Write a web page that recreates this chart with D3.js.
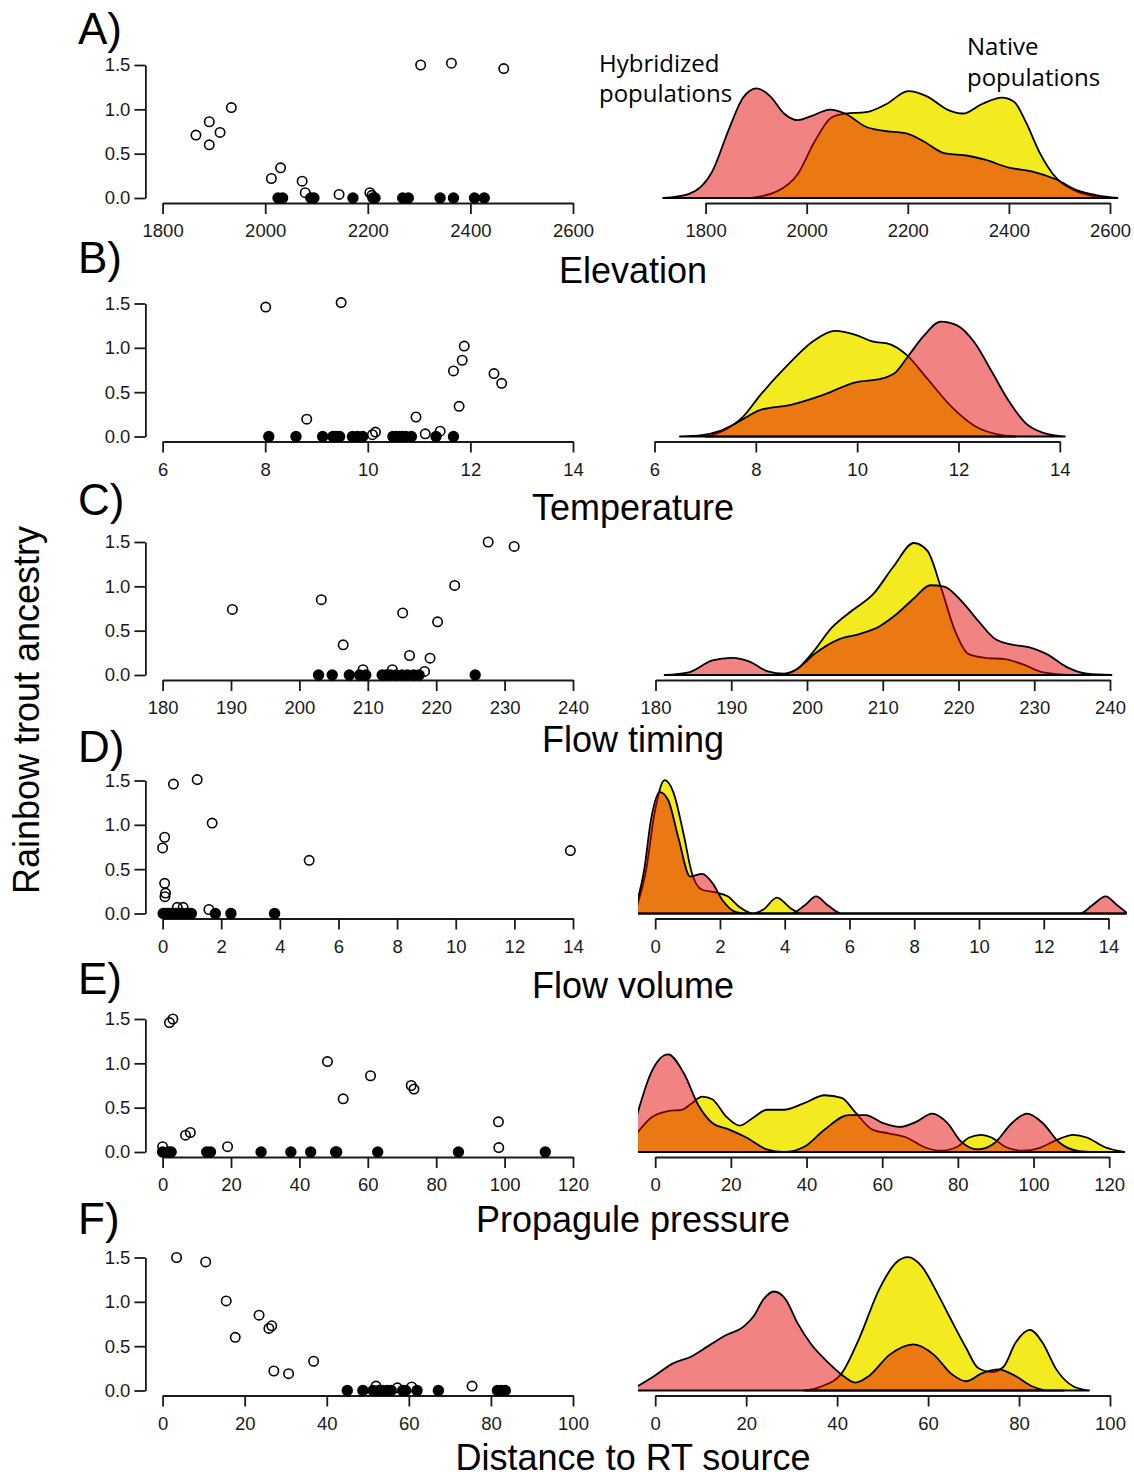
<!DOCTYPE html>
<html>
<head>
<meta charset="utf-8">
<script src="https://cdn.jsdelivr.net/npm/d3@7"></script>
<style>
  body { margin: 0; background: #fff; }
</style>
</head>
<body>
<div id="chart"></div>
<script>
// panel labels and variable names
var letters = ["A)", "B)", "C)", "D)", "E)", "F)"];
var varNames = ["Elevation", "Temperature", "Flow timing", "Flow volume", "Propagule pressure", "Distance to RT source"];
var xTicks = [
  [1800, 2000, 2200, 2400, 2600],
  [6, 8, 10, 12, 14],
  [180, 190, 200, 210, 220, 230, 240],
  [0, 2, 4, 6, 8, 10, 12, 14],
  [0, 20, 40, 60, 80, 100, 120],
  [0, 20, 40, 60, 80, 100]
];
var yTicks = [0, 0.5, 1.0, 1.5];

// scatter: hybridized (open) and native (filled, ancestry 0)
var elevHybX = [1865, 1891, 1891, 1912, 1934, 2012, 2030, 2072, 2078, 2144, 2204, 2208, 2303, 2363, 2465];
var elevHybY = [0.71, 0.86, 0.60, 0.74, 1.02, 0.22, 0.34, 0.19, 0.06, 0.04, 0.06, 0.03, 1.50, 1.52, 1.46];
var elevNatX = [2025, 2034, 2089, 2095, 2171, 2210, 2214, 2268, 2279, 2341, 2367, 2408, 2427];

var tempHybX = [8.01, 9.48, 8.81, 10.09, 10.15, 10.94, 11.12, 11.41, 11.67, 11.78, 11.84, 11.88, 12.46, 12.61];
var tempHybY = [1.46, 1.51, 0.195, 0.02, 0.05, 0.22, 0.03, 0.06, 0.74, 0.34, 0.86, 1.02, 0.71, 0.60];
var tempNatX = [8.07, 8.60, 9.12, 9.32, 9.38, 9.45, 9.70, 9.80, 9.90, 10.49, 10.55, 10.62, 10.68, 10.74, 10.85, 11.33, 11.67];

var timeHybX = [190.2, 203.2, 206.4, 209.3, 213.6, 215.1, 216.1, 218.3, 219.1, 220.2, 222.7, 227.6, 231.4];
var timeHybY = [0.74, 0.85, 0.34, 0.06, 0.06, 0.70, 0.22, 0.04, 0.19, 0.60, 1.01, 1.50, 1.45];
var timeNatX = [202.8, 204.8, 207.3, 208.8, 209.7, 212.1, 212.7, 213.3, 214.1, 215.0, 215.8, 216.7, 217.5, 225.7];

var volHybX = [0.37, 1.18, 1.69, 0.07, 0.0, 0.07, 0.10, 0.08, 5.0, 13.91, 0.5, 0.7, 1.58];
var volHybY = [1.46, 1.51, 1.02, 0.86, 0.74, 0.34, 0.23, 0.19, 0.60, 0.71, 0.07, 0.07, 0.045];
var volNatX = [0.02, 0.08, 0.15, 0.22, 0.30, 0.38, 0.45, 0.55, 0.62, 0.70, 0.80, 0.90, 0.98, 1.80, 2.33, 3.82];

var propHybX = [2.0, 3.0, 6.7, 8.1, 0.0, 19.0, 48.2, 52.8, 60.8, 72.7, 73.5, 98.2, 98.3];
var propHybY = [1.46, 1.50, 0.19, 0.22, 0.06, 0.06, 1.02, 0.60, 0.86, 0.75, 0.71, 0.34, 0.05];
var propNatX = [0, 1.7, 2.5, 12.9, 14.0, 28.8, 37.5, 43.3, 50.6, 50.9, 62.9, 86.5, 111.9];

var distHybX = [3.4, 10.5, 15.5, 17.7, 23.5, 25.9, 26.6, 27.1, 30.7, 36.8, 52.0, 57.2, 60.7, 75.4];
var distHybY = [1.50, 1.45, 1.01, 0.60, 0.85, 0.70, 0.73, 0.22, 0.19, 0.33, 0.05, 0.03, 0.04, 0.05];
var distNatX = [45.0, 48.8, 51.3, 52.7, 53.6, 54.8, 55.7, 58.5, 59.2, 62.0, 67.2, 81.6, 82.5, 83.5];

// density curves (relative height, 100 = full ancestry axis height)
var elevRedX = [1716, 1766, 1813, 1847, 1874, 1901, 1928, 1955, 1982, 2009, 2046, 2076, 2117, 2150, 2197, 2231, 2272, 2319, 2353, 2400, 2447, 2494, 2534, 2575, 2615];
var elevRedD = [0, 3, 20, 53, 76, 83, 77, 64, 59, 62, 67, 64, 54, 51, 49, 43, 34, 32, 29, 23, 20, 14, 6, 2, 0];
var elevYelX = [1888, 1941, 1982, 2016, 2049, 2076, 2117, 2157, 2201, 2238, 2278, 2309, 2346, 2386, 2410, 2433, 2460, 2494, 2534, 2575, 2604];
var elevYelD = [0, 5, 18, 43, 61, 64, 65, 71, 81, 77, 67, 64, 71, 76, 73, 58, 35, 15, 5, 1, 0];

var tempRedX = [6.50, 6.94, 7.28, 7.61, 8.08, 8.69, 9.29, 9.97, 10.50, 10.77, 11.01, 11.31, 11.65, 11.98, 12.32, 12.66, 12.99, 13.33, 13.66, 14.10];
var tempRedD = [0, 1, 4, 10, 20, 24, 31, 41, 44, 49, 61, 76, 87, 84, 71, 49, 27, 10, 3, 0];
var tempYelX = [7.01, 7.34, 7.75, 8.08, 8.55, 9.16, 9.56, 9.97, 10.30, 10.64, 10.97, 11.38, 11.85, 12.32, 12.86, 13.13];
var tempYelD = [0, 4, 15, 31, 51, 73, 80, 77, 72, 70, 62, 44, 23, 8, 1, 0];

var timeRedX = [181.2, 184.4, 187.5, 190.0, 192.5, 194.7, 197.0, 198.8, 201.0, 204.2, 206.9, 209.6, 211.8, 214.1, 216.3, 218.1, 220.4, 222.6, 224.9, 227.1, 229.4, 231.6, 234.3, 237.0, 240.2];
var timeRedD = [0, 2, 11, 13, 10, 3, 1, 5, 16, 27, 31, 37, 46, 58, 68, 67, 56, 41, 27, 23, 21, 16, 6, 1, 0];
var timeYelX = [196.1, 198.3, 200.6, 203.3, 206.0, 208.7, 211.4, 214.1, 215.9, 217.7, 219.5, 221.3, 223.5, 226.2, 228.5, 231.2, 234.8];
var timeYelD = [0, 3, 16, 36, 49, 61, 82, 100, 94, 66, 34, 16, 13, 12, 8, 2, 0];

var volRedX = [-0.57, -0.34, -0.13, 0.14, 0.40, 0.71, 1.08, 1.45, 1.77, 2.08, 2.50, 2.82, 4.18, 4.61, 4.97, 5.34, 5.76, 13.12, 13.49, 13.91, 14.28, 14.54];
var volRedD = [8, 33, 71, 92, 86, 58, 28, 30, 23, 10, 1, 0, 0, 6, 13, 6, 0, 0, 6, 13, 6, 1];
var volYelX = [-0.57, -0.28, -0.02, 0.29, 0.56, 0.87, 1.14, 1.45, 1.87, 2.24, 2.60, 3.03, 3.34, 3.76, 4.18, 4.50, 14.54];
var volYelD = [5, 33, 76, 101, 92, 61, 30, 18, 16, 13, 5, 0, 3, 12, 4, 0, 0];

var propRedX = [-4.9, -1.1, 3.4, 7.5, 11.5, 15.1, 19.6, 24.1, 29.5, 34.0, 39.4, 44.8, 51.1, 55.6, 60.1, 64.6, 69.1, 73.2, 77.2, 80.8, 85.3, 89.8, 94.3, 98.3, 102.4, 106.9, 111.4, 115.0];
var propRedD = [27, 60, 74, 60, 35, 22, 17, 11, 2, 0, 4, 17, 28, 28, 22, 19, 23, 29, 22, 8, 2, 7, 22, 29, 22, 7, 1, 0];
var propYelX = [-4.9, -1.1, 3.4, 7.0, 9.7, 12.4, 15.1, 18.7, 22.3, 25.9, 29.5, 34.0, 39.4, 44.8, 49.3, 52.9, 57.4, 61.9, 66.4, 70.9, 75.4, 79.9, 83.0, 86.2, 88.9, 92.5, 97.0, 101.5, 106.0, 110.5, 114.1, 118.6, 124.0];
var propYelD = [14, 26, 31, 32, 37, 42, 40, 27, 20, 26, 32, 32, 37, 43, 41, 30, 17, 14, 11, 4, 1, 4, 11, 13, 11, 4, 1, 3, 9, 13, 11, 4, 0];

var distRedX = [-4.0, -0.2, 3.6, 8.1, 11.8, 15.6, 19.3, 21.6, 23.8, 26.1, 28.7, 31.3, 34.3, 38.1, 41.0, 44.0, 47.0, 51.5, 56.8, 61.3, 65.0, 68.4, 71.8, 75.5, 79.2, 83.0, 86.7, 89.7];
var distRedD = [3, 11, 20, 26, 34, 42, 48, 56, 69, 75, 69, 51, 35, 21, 12, 6, 11, 27, 35, 27, 13, 7, 13, 16, 11, 3, 0, 0];
var distYelX = [32.8, 36.5, 41.0, 44.8, 49.3, 53.0, 55.6, 58.6, 62.0, 65.0, 68.4, 71.0, 74.0, 76.6, 79.2, 82.4, 85.2, 88.2, 92.0, 95.4];
var distYelD = [0, 3, 13, 39, 77, 97, 101, 94, 74, 54, 32, 17, 14, 18, 36, 46, 36, 16, 3, 0];

var panels = [
  { hx: elevHybX, hy: elevHybY, nx: elevNatX, rx: elevRedX, rd: elevRedD, yx: elevYelX, yd: elevYelD },
  { hx: tempHybX, hy: tempHybY, nx: tempNatX, rx: tempRedX, rd: tempRedD, yx: tempYelX, yd: tempYelD },
  { hx: timeHybX, hy: timeHybY, nx: timeNatX, rx: timeRedX, rd: timeRedD, yx: timeYelX, yd: timeYelD },
  { hx: volHybX, hy: volHybY, nx: volNatX, rx: volRedX, rd: volRedD, yx: volYelX, yd: volYelD },
  { hx: propHybX, hy: propHybY, nx: propNatX, rx: propRedX, rd: propRedD, yx: propYelX, yd: propYelD },
  { hx: distHybX, hy: distHybY, nx: distNatX, rx: distRedX, rd: distRedD, yx: distYelX, yd: distYelD }
];

// layout
var w = 1134, h = 1480;
var top0 = 65, rowStep = 238.5, ancH = 133;
var yAxisX = 145.4;
var leftRange = [162.6, 573];
var rightRanges = [[705.6, 1110], [654.5, 1059.8], [655.5, 1110], [655.2, 1108.5], [655.2, 1109.2], [655.2, 1110]];
var letterY = [44, 273, 515, 762, 994, 1234];
var titleY = [283, 520, 752, 998, 1232, 1470];
var font = "'Liberation Sans', Arial, Helvetica, sans-serif";
var tickFs = 18.5;
var yellowFill = "#f3ea1f";
var redFill = "rgba(228, 8, 8, 0.5)";

var svg = d3.select("#chart").append("svg")
  .attr("width", w).attr("height", h)
  .style("background", "#fff");

panels.forEach(function (p, i) {
  drawRow(p, i);
});

function styleAxis(g, fs) {
  g.attr("font-size", fs).attr("font-family", font);
  g.selectAll("path, line").attr("stroke", "#1a1a1a").attr("stroke-width", 1.8);
  g.selectAll("text").attr("fill", "#1a1a1a");
}

function drawRow(p, i) {
  var top = top0 + i * rowStep;
  var zero = top + ancH;
  var axisY = zero + 5;
  var ticks = xTicks[i];
  var dom = [ticks[0], ticks[ticks.length - 1]];

  // ---- left: scatter ----
  var xL = d3.scaleLinear().domain(dom).range(leftRange);
  var yL = d3.scaleLinear().domain([0, 1.5]).range([zero, top]);

  svg.append("g")
    .attr("transform", "translate(" + yAxisX + ",0)")
    .call(d3.axisLeft(yL).tickValues(yTicks).tickFormat(d3.format(".1f"))
      .tickSize(11).tickSizeOuter(0).tickPadding(4))
    .call(styleAxis, tickFs);

  svg.append("g")
    .attr("transform", "translate(0," + axisY + ")")
    .call(d3.axisBottom(xL).tickValues(ticks).tickFormat(d3.format("d"))
      .tickSize(11).tickSizeOuter(0).tickPadding(10))
    .call(styleAxis, tickFs);

  svg.append("g").selectAll("circle")
    .data(p.nx)
    .enter()
    .append("circle")
    .attr("cx", function (d) { return xL(d); })
    .attr("cy", yL(0))
    .attr("r", 5.7)
    .attr("fill", "#000");

  var hyb = d3.zip(p.hx, p.hy);
  svg.append("g").selectAll("circle")
    .data(hyb)
    .enter()
    .append("circle")
    .attr("cx", function (d) { return xL(d[0]); })
    .attr("cy", function (d) { return yL(d[1]); })
    .attr("r", 4.7)
    .attr("fill", "none")
    .attr("stroke", "#000")
    .attr("stroke-width", 1.6);

  // ---- right: densities ----
  var xR = d3.scaleLinear().domain(dom).range(rightRanges[i]);
  var yR = d3.scaleLinear().domain([0, 100]).range([zero, zero - 132]);

  svg.append("g")
    .attr("transform", "translate(0," + axisY + ")")
    .call(d3.axisBottom(xR).tickValues(ticks).tickFormat(d3.format("d"))
      .tickSize(11).tickSizeOuter(0).tickPadding(10))
    .call(styleAxis, tickFs);

  var clipId = "clip" + i;
  svg.append("clipPath").attr("id", clipId)
    .append("rect")
    .attr("x", 638).attr("y", top - 30)
    .attr("width", 489).attr("height", ancH + 32);

  var area = d3.area()
    .x(function (d) { return xR(d[0]); })
    .y0(zero)
    .y1(function (d) { return yR(d[1]); })
    .curve(d3.curveMonotoneX);

  var dens = svg.append("g").attr("clip-path", "url(#" + clipId + ")");
  dens.append("path")
    .datum(d3.zip(p.yx, p.yd))
    .attr("d", area)
    .attr("fill", yellowFill)
    .attr("stroke", "#000")
    .attr("stroke-width", 1.8)
    .attr("stroke-linejoin", "round");
  dens.append("path")
    .datum(d3.zip(p.rx, p.rd))
    .attr("d", area)
    .attr("fill", redFill)
    .attr("stroke", "#000")
    .attr("stroke-width", 1.8)
    .attr("stroke-linejoin", "round");

  // ---- labels ----
  svg.append("text")
    .attr("x", 78).attr("y", letterY[i])
    .text(letters[i])
    .style("font-family", font)
    .style("font-size", "44px")
    .style("fill", "#000");

  svg.append("text")
    .attr("x", 633).attr("y", titleY[i])
    .attr("text-anchor", "middle")
    .text(varNames[i])
    .style("font-family", font)
    .style("font-size", "36px")
    .style("fill", "#000");
}

// legend labels in the first density panel
var legendFont = "'Open Sans', 'Noto Sans', sans-serif";
[["Hybridized", 599, 72], ["populations", 599, 102], ["Native", 967, 55], ["populations", 967, 86]]
  .forEach(function (t) {
    svg.append("text")
      .attr("x", t[1]).attr("y", t[2])
      .text(t[0])
      .style("font-family", legendFont)
      .style("font-size", "24px")
      .style("fill", "#000");
  });

// shared y title
svg.append("text")
  .attr("transform", "translate(39,710) rotate(-90)")
  .attr("text-anchor", "middle")
  .text("Rainbow trout ancestry")
  .style("font-family", font)
  .style("font-size", "36px")
  .style("fill", "#000");
</script>
</body>
</html>
